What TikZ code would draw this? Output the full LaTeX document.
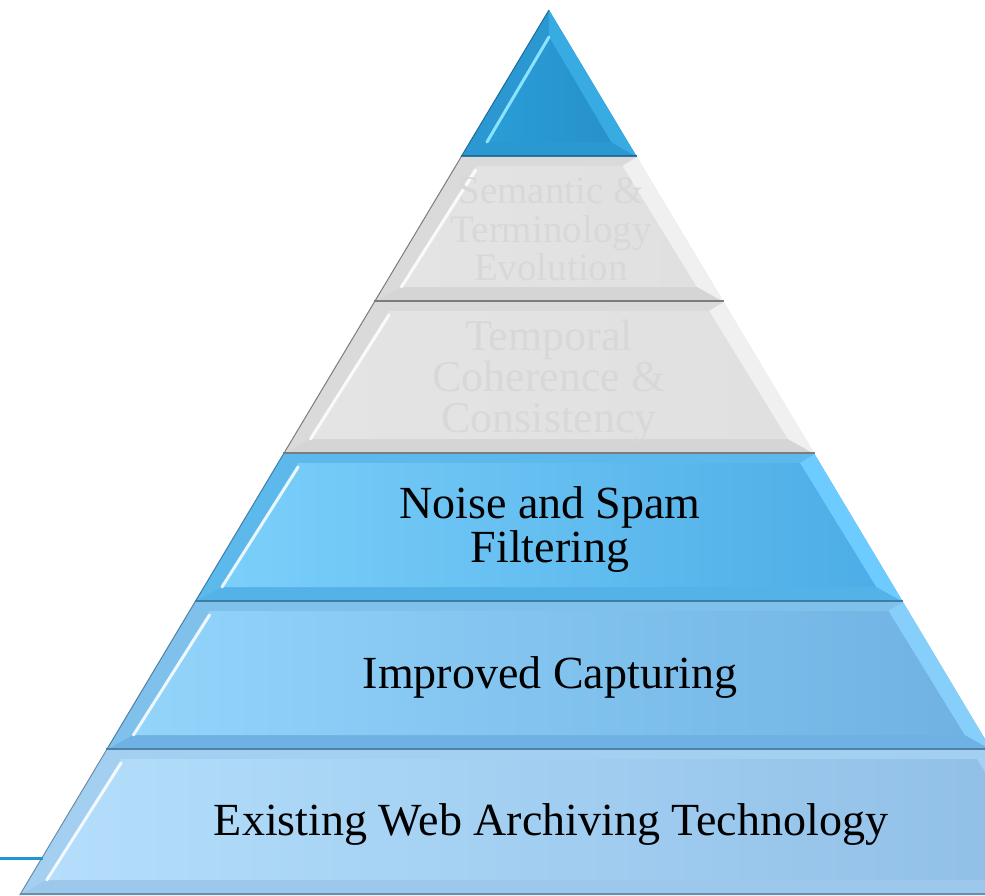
\documentclass[tikz,border=0pt]{standalone}
\usepackage{fontspec}
\setmainfont{Liberation Serif}
\definecolor{topout}{HTML}{2B98D2}
\definecolor{topface}{HTML}{2A9DD7}
\definecolor{topfaceR}{HTML}{2791CB}
\definecolor{topright}{HTML}{38ABE2}
\definecolor{topline}{HTML}{1C6C97}
\definecolor{tophi}{HTML}{8BE3FF}
\definecolor{grayface}{HTML}{E4E4E4}
\definecolor{grayfaceR}{HTML}{E0E0E0}
\definecolor{grayout}{HTML}{DADADA}
\definecolor{grayright}{HTML}{F0F0F0}
\definecolor{graybot}{HTML}{D5D5D5}
\definecolor{grayline}{HTML}{7C7C7C}
\definecolor{graytext}{HTML}{D8D8D8}
\definecolor{nsfaceL}{HTML}{7BCFFA}
\definecolor{nsfaceR}{HTML}{4DADE6}
\definecolor{nsout}{HTML}{5DB8EC}
\definecolor{nsright}{HTML}{6DCBFF}
\definecolor{nsbot}{HTML}{55B2E8}
\definecolor{nsline}{HTML}{3E7EA6}
\definecolor{icfaceL}{HTML}{93D4FB}
\definecolor{icfaceR}{HTML}{70B2E2}
\definecolor{icout}{HTML}{80C1EC}
\definecolor{icright}{HTML}{86CFFB}
\definecolor{icbot}{HTML}{6EB2E3}
\definecolor{icline}{HTML}{4F80A6}
\definecolor{exfaceL}{HTML}{B4DEFB}
\definecolor{exfaceR}{HTML}{8FBEE6}
\definecolor{exout}{HTML}{A3CFF1}
\definecolor{exright}{HTML}{A2D2F6}
\definecolor{exbot}{HTML}{9CC8EC}
\definecolor{exline}{HTML}{6D8DA8}
\definecolor{cyanline}{HTML}{1E96D4}
\newcommand\pyrlayer[8]{%
\pgfmathsetmacro\wt{0.598*(#1-10)}%
\pgfmathsetmacro\wb{0.598*(#2-10)}%
\pgfmathsetmacro\ti{#1+9}%
\pgfmathsetmacro\bi{#2-15}%
\pgfmathsetmacro\wti{0.598*(\ti-10)-20}%
\pgfmathsetmacro\wbi{0.598*(\bi-10)-18}%
\fill[#5] ({549-\wt},#1) -- ({549+\wt},#1) -- ({549+\wb},#2) -- ({549-\wb},#2) -- cycle;
\fill[#6] ({549+\wt},#1) -- ({549+\wb},#2) -- ({549+\wbi},\bi) -- ({549+\wti},\ti) -- cycle;
\fill[#7] ({549-\wb},#2) -- ({549+\wb},#2) -- ({549+\wbi},\bi) -- ({549-\wbi},\bi) -- cycle;
\shade[left color=#3, right color=#4] ({549-\wti},\ti) -- ({549+\wti},\ti) -- ({549+\wbi},\bi) -- ({549-\wbi},\bi) -- cycle;
\draw[white, line width=3pt, line cap=round, opacity=.85] ({549-\wti},{\ti+4}) -- ({549-\wbi},\bi);
\draw[#8, line width=1pt] ({549-\wt},#1) -- ({549-\wb},#2);
\draw[#8, line width=2pt] ({549-\wb},{#2-1}) -- ({549+\wb},{#2-1});
}
\tikzset{
  lbl/.style={anchor=base, inner sep=0pt, text=black, font=\fontsize{46}{46}\selectfont},
  glbl/.style={anchor=base, inner sep=0pt, text=graytext, font=\fontsize{44}{44}\selectfont},
  slbl/.style={anchor=base, inner sep=0pt, text=graytext, font=\fontsize{39}{39}\selectfont},
}
\begin{document}
\begin{tikzpicture}[x=1pt, y=-1pt]
\useasboundingbox (0,0) rectangle (985,896);
\clip (0,0) rectangle (985,896);
% top triangle
\fill[topout] (549,10) -- (637,157) -- (461,157) -- cycle;
\fill[topright] (549,10) -- (637,157) -- (611,142) -- (549,37) -- cycle;
\shade[left color=topface, right color=topfaceR] (549,37) -- (611,142) -- (487,142) -- cycle;
\draw[tophi, line width=3pt, line cap=round] (549,37) -- (487,142);
\draw[topline, line width=1pt] (549,10) -- (461,157);
\draw[topline, line width=2pt] (461,156) -- (637,156);
% layers
\pyrlayer{157}{302}{grayface}{grayfaceR}{grayout}{grayright}{graybot}{grayline}
\pyrlayer{302}{454}{grayface}{grayfaceR}{grayout}{grayright}{graybot}{grayline}
\pyrlayer{454}{602}{nsfaceL}{nsfaceR}{nsout}{nsright}{nsbot}{nsline}
\pyrlayer{602}{750}{icfaceL}{icfaceR}{icout}{icright}{icbot}{icline}
\pyrlayer{750}{895}{exfaceL}{exfaceR}{exout}{exright}{exbot}{exline}
% texts
\node[slbl] (sem1) at (551,204) {Semantic \&};
\node[slbl] (sem2) at (551,243) {Terminology};
\node[slbl] (sem3) at (551,280) {Evolution};
\node[glbl] (tmp1) at (549,350) {Temporal};
\node[glbl] (tmp2) at (549,391) {Coherence \&};
\node[glbl] (tmp3) at (549,432) {Consistency};
\node[lbl] (ns1) at (550,518) {Noise and Spam};
\node[lbl] (ns2) at (550,562) {Filtering};
\node[lbl] (ic) at (550,688) {Improved Capturing};
\node[lbl] (ex) at (551,835) {Existing Web Archiving Technology};
% left blue line
\coordinate (lineS) at (0,858);
\coordinate (lineE) at (43,858);
\draw[cyanline, line width=3pt] (lineS) -- (lineE);
\end{tikzpicture}
\end{document}
